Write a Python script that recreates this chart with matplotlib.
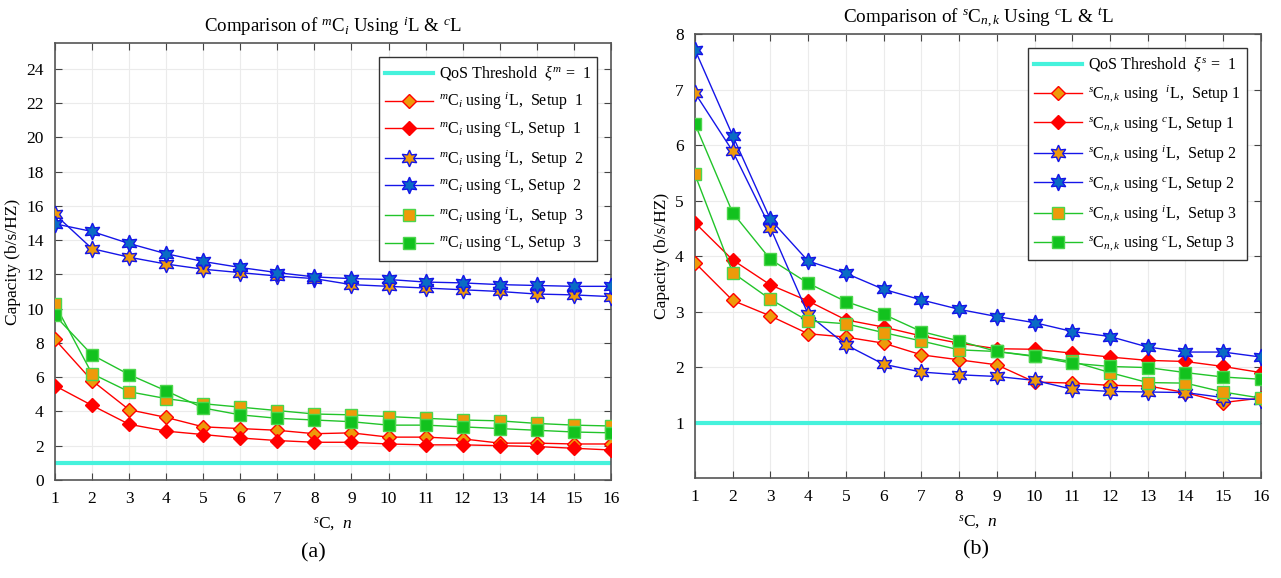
import numpy as np
import matplotlib
matplotlib.use("Agg")
from matplotlib import pyplot as plt

plt.rcParams['font.family'] = ['Liberation Serif', 'DejaVu Serif']
plt.rcParams['mathtext.fontset'] = 'custom'
plt.rcParams['mathtext.rm'] = 'Liberation Serif'
plt.rcParams['mathtext.it'] = 'Liberation Serif:italic'
plt.rcParams['mathtext.bf'] = 'Liberation Serif:bold'

x = np.arange(1, 17)

# (a) mC_i
m_il_s1 = [8.2, 5.8, 4.1, 3.65, 3.1, 3.0, 2.9, 2.7, 2.75, 2.5, 2.5, 2.4, 2.15, 2.15, 2.1, 2.1]
m_cl_s1 = [5.5, 4.35, 3.25, 2.85, 2.65, 2.45, 2.3, 2.2, 2.2, 2.1, 2.05, 2.05, 2.0, 1.95, 1.85, 1.75]
m_il_s2 = [15.5, 13.5, 13.0, 12.6, 12.3, 12.1, 11.9, 11.75, 11.4, 11.3, 11.2, 11.1, 11.0, 10.85, 10.8, 10.7]
m_cl_s2 = [14.95, 14.5, 13.8, 13.2, 12.75, 12.4, 12.1, 11.85, 11.75, 11.7, 11.55, 11.5, 11.4, 11.35, 11.3, 11.3]
m_il_s3 = [10.25, 6.2, 5.15, 4.75, 4.45, 4.25, 4.05, 3.85, 3.8, 3.7, 3.6, 3.5, 3.45, 3.3, 3.2, 3.15]
m_cl_s3 = [9.6, 7.3, 6.15, 5.2, 4.2, 3.8, 3.6, 3.5, 3.4, 3.2, 3.2, 3.1, 3.0, 2.9, 2.8, 2.75]

# (b) sC_{n,k}
s_il_s1 = [3.88, 3.2, 2.92, 2.6, 2.54, 2.43, 2.22, 2.13, 2.04, 1.73, 1.71, 1.67, 1.66, 1.54, 1.36, 1.44]
s_cl_s1 = [4.6, 3.93, 3.48, 3.19, 2.85, 2.72, 2.56, 2.43, 2.33, 2.32, 2.25, 2.18, 2.12, 2.1, 2.01, 1.9]
s_il_s2 = [6.94, 5.89, 4.51, 2.95, 2.4, 2.05, 1.91, 1.86, 1.83, 1.76, 1.6, 1.56, 1.55, 1.54, 1.45, 1.41]
s_cl_s2 = [7.72, 6.17, 4.66, 3.91, 3.69, 3.4, 3.21, 3.04, 2.91, 2.8, 2.64, 2.55, 2.36, 2.27, 2.27, 2.18]
s_il_s3 = [5.47, 3.7, 3.22, 2.83, 2.78, 2.62, 2.47, 2.31, 2.28, 2.2, 2.1, 1.9, 1.72, 1.71, 1.55, 1.44]
s_cl_s3 = [6.38, 4.78, 3.94, 3.51, 3.18, 2.95, 2.64, 2.47, 2.28, 2.19, 2.07, 2.01, 1.99, 1.9, 1.82, 1.78]

qos = 1

orange = '#EE9A0A'
red = '#FF0000'
blue = '#1515E8'
blue_face = '#0A6CC4'
green = '#22C42A'
green_face = '#12C21E'
cyan = '#45F2DC'
hexagram = (6, 1, 0)


def draw_panel(ax, series, labels, qos_label, ylim, yticks, spacing):
    ax.plot(x, [qos] * len(x), color=cyan, lw=3, label=qos_label, zorder=2)
    styles = [
        dict(color=red, marker='D', ms=7.5, mfc=orange, mec=red),
        dict(color=red, marker='D', ms=7.5, mfc=red, mec=red),
        dict(color=blue, marker=hexagram, ms=12, mfc=orange, mec=blue),
        dict(color=blue, marker=hexagram, ms=12, mfc=blue_face, mec=blue),
        dict(color=green, marker='s', ms=9, mfc=orange, mec='#4CD64C'),
        dict(color=green, marker='s', ms=9, mfc=green_face, mec='#4CD64C'),
    ]
    for i, (y, lab) in enumerate(zip(series, labels)):
        ax.plot(x, y, lw=1, mew=1, label=lab, zorder=3 + i, **styles[i])
    ax.set_xlim(1, 16)
    ax.set_ylim(*ylim)
    ax.set_xticks(x)
    ax.set_yticks(yticks)
    ax.grid(True, color='#EBEBEB', lw=0.8)
    ax.set_axisbelow(True)
    ax.tick_params(direction='in', top=True, right=True, labelsize=12.5,
                   length=5, color='#444444', pad=8)
    for sp in ax.spines.values():
        sp.set_color('#555555')
        sp.set_linewidth(1.2)
    ax.set_xlabel(r'$^{s}$C,  $n$', fontsize=12.5, labelpad=6)
    ax.set_ylabel('Capacity (b/s/HZ)', fontsize=12.5, labelpad=4)
    leg = ax.legend(loc='upper right', fontsize=11.5, fancybox=False, framealpha=1,
                    edgecolor='#333333', handlelength=3.0, handletextpad=0.35,
                    borderpad=0.4, labelspacing=spacing, borderaxespad=0,
                    bbox_to_anchor=(0.975, 0.968))
    leg.get_frame().set_linewidth(1.0)


fig = plt.figure(figsize=(12.81, 5.78), dpi=100)

ax1 = fig.add_axes([0.0429, 0.1696, 0.434, 0.756])
labels_a = [r'$^{m}$C$_{i}$ using $^{i}$L,  Setup  1',
            r'$^{m}$C$_{i}$ using $^{c}$L, Setup  1',
            r'$^{m}$C$_{i}$ using $^{i}$L,  Setup  2',
            r'$^{m}$C$_{i}$ using $^{c}$L, Setup  2',
            r'$^{m}$C$_{i}$ using $^{i}$L,  Setup  3',
            r'$^{m}$C$_{i}$ using $^{c}$L, Setup  3']
draw_panel(ax1, [m_il_s1, m_cl_s1, m_il_s2, m_cl_s2, m_il_s3, m_cl_s3], labels_a,
           r'QoS Threshold  $\xi^{m}$ =  $\mathit{1}$', (0, 25.5), np.arange(0, 25, 2), 0.52)
ax1.set_title(r'Comparison of $^{m}$C$_{i}$ Using $^{i}$L & $^{c}$L', fontsize=13.6, pad=8)

ax2 = fig.add_axes([0.5425, 0.173, 0.4418, 0.768])
labels_b = [r'$^{s}$C$_{n,k}$ using  $^{i}$L,  Setup 1',
            r'$^{s}$C$_{n,k}$ using $^{c}$L, Setup 1',
            r'$^{s}$C$_{n,k}$ using $^{i}$L,  Setup 2',
            r'$^{s}$C$_{n,k}$ using $^{c}$L, Setup 2',
            r'$^{s}$C$_{n,k}$ using $^{i}$L,  Setup 3',
            r'$^{s}$C$_{n,k}$ using $^{c}$L, Setup 3']
draw_panel(ax2, [s_il_s1, s_cl_s1, s_il_s2, s_cl_s2, s_il_s3, s_cl_s3], labels_b,
           r'QoS Threshold  $\xi^{s}$ =  $\mathit{1}$', (0, 8), np.arange(1, 9, 1), 0.62)
ax2.set_title(r'Comparison of $^{s}$C$_{n,k}$ Using $^{c}$L & $^{t}$L', fontsize=13.8, pad=8)

fig.text(0.245, 0.043, '(a)', fontsize=16, ha='center', va='center')
fig.text(0.762, 0.048, '(b)', fontsize=16, ha='center', va='center')

fig.savefig('out.png', dpi=100)
